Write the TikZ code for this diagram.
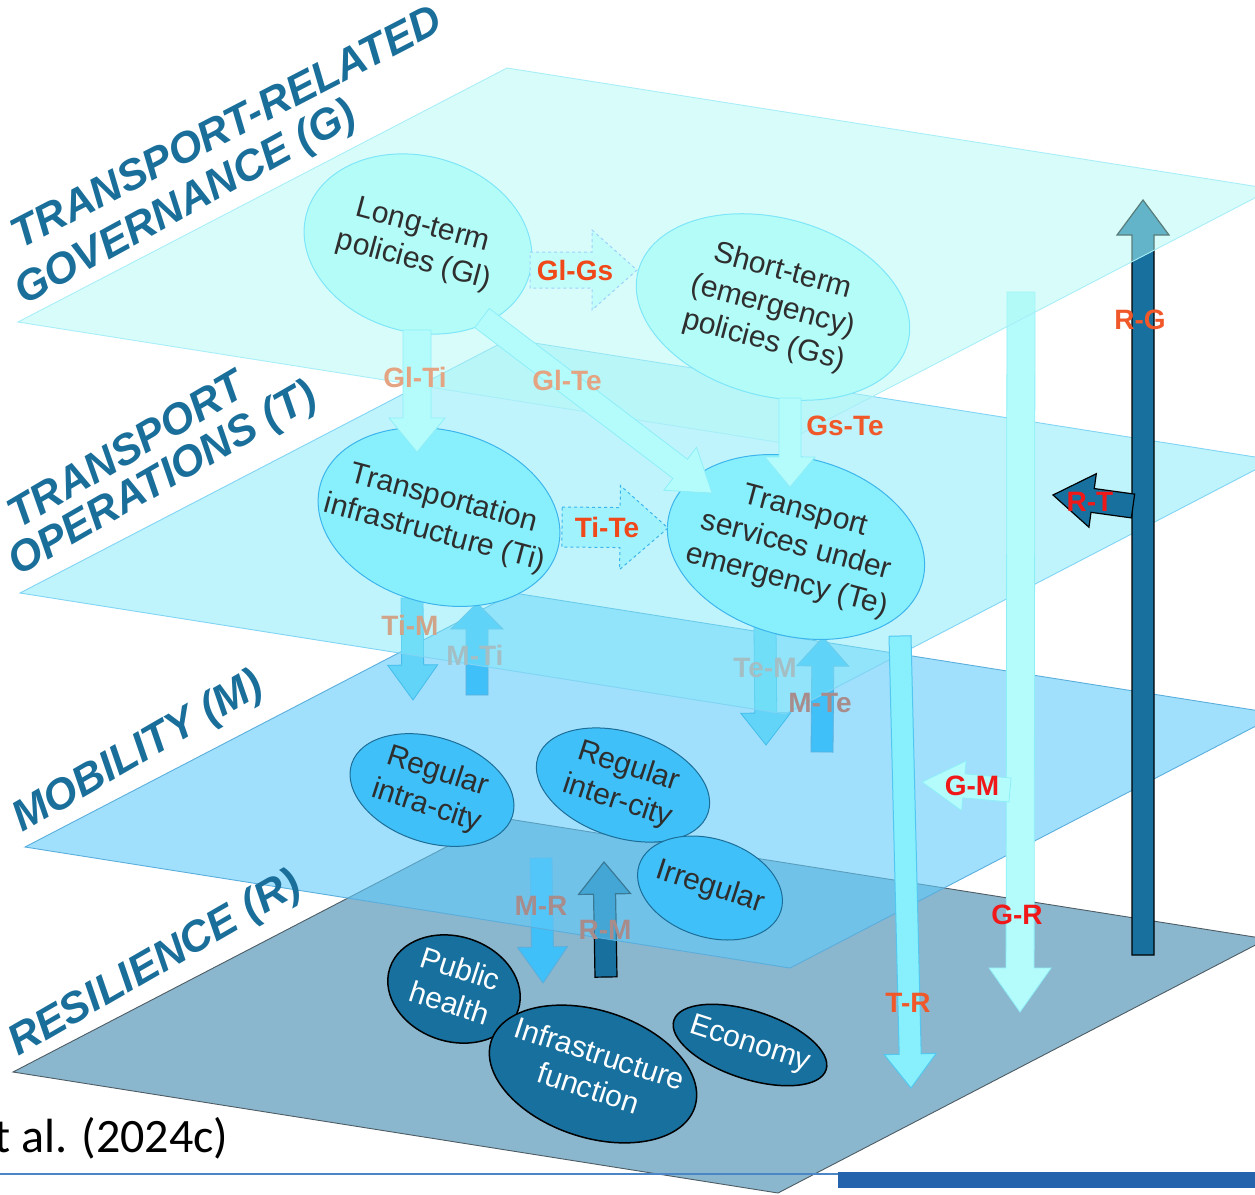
\documentclass[tikz,border=0pt]{standalone}
\usepackage{fontspec}
\setmainfont{Liberation Sans}
\newfontfamily\citefont{Carlito}
\usetikzlibrary{calc,shapes.geometric}

% Layer colours
\definecolor{titleblue}{HTML}{1A6E9A}
\definecolor{govfill}{RGB}{177,249,245}
\definecolor{govline}{HTML}{A8EEF8}
\definecolor{opsfill}{RGB}{129,233,249}
\definecolor{opsline}{HTML}{80D4F4}
\definecolor{mobfill}{RGB}{97,203,250}
\definecolor{mobline}{HTML}{5AAEDC}
\definecolor{resfill}{HTML}{8AB6CE}
\definecolor{resline}{HTML}{4E5C64}
% Bubble colours
\definecolor{nodetext}{HTML}{2E2E2E}
\definecolor{govnode}{HTML}{B4FCF8}
\definecolor{govnodeline}{HTML}{7EE6F8}
\definecolor{opsnode}{HTML}{88F0FC}
\definecolor{opsnodeline}{HTML}{3CB4EC}
\definecolor{mobnode}{HTML}{40C0F8}
\definecolor{mobnodeline}{HTML}{1C6E98}
\definecolor{resnode}{HTML}{17709E}
% Arrow colours
\definecolor{palearrow}{HTML}{B4FCFC}
\definecolor{palearrowline}{HTML}{8EEEF8}
\definecolor{opsarrow}{HTML}{62D4F8}
\definecolor{opsarrowline}{HTML}{44BCEC}
\definecolor{trarrow}{HTML}{88F0FC}
\definecolor{trarrowline}{HTML}{52C8F0}
% Label colours
\definecolor{lblred}{HTML}{F04818}
\definecolor{lblorange}{HTML}{F0582A}
\definecolor{lblbright}{HTML}{F01818}
\definecolor{lblpale}{HTML}{E4A482}
\definecolor{lbltan}{HTML}{D0A488}
\definecolor{lblgrey}{HTML}{A4BEC4}
\definecolor{lblmauve}{HTML}{A88C8C}
\definecolor{rulethin}{HTML}{4D86C6}
\definecolor{rulethick}{HTML}{2563AD}

% block arrow: style, tail, tip, half shaft, half head, head length
\newcommand{\fatarrow}[6]{%
  \coordinate (neck) at ($(#3)!#6!(#2)$);
  \path[#1] ($(#2)!#4!90:(#3)$) -- ($(neck)!#4!90:(#3)$)
    -- ($(neck)!#5!90:(#3)$) -- (#3)
    -- ($(neck)!#5!-90:(#3)$) -- ($(neck)!#4!-90:(#3)$)
    -- ($(#2)!#4!-90:(#3)$) -- cycle;}
% bubble text that does not widen its ellipse
\newcommand{\btext}[1]{\makebox[0pt]{\begin{tabular}{@{}c@{}}#1\end{tabular}}}

\begin{document}
\begin{tikzpicture}[x=1pt, y=-1pt,
  % Plane styles
  plane/.style={line width=0.9pt},
  gov plane/.style={plane, fill=govfill, fill opacity=0.5, draw=govline},
  ops plane/.style={plane, fill=opsfill, fill opacity=0.5, draw=opsline},
  mob plane/.style={plane, fill=mobfill, fill opacity=0.6, draw=mobline},
  res plane/.style={plane, fill=resfill, draw=resline},
  % Node styles
  bubble/.style={
    ellipse,
    inner sep=0pt,
    line width=1pt,
    text=nodetext,
    font=\fontsize{30}{36}\selectfont,
  },
  gov bubble/.style={bubble, fill=govnode, draw=govnodeline, rotate=-15},
  ops bubble/.style={bubble, fill=opsnode, draw=opsnodeline, rotate=-15},
  mob bubble/.style={bubble, fill=mobnode, draw=mobnodeline, rotate=-18},
  res bubble/.style={bubble, fill=resnode, draw=black, line width=1.5pt,
    text=white, rotate=-18},
  % Arrow styles
  pale link/.style={fill=palearrow, draw=palearrowline, line width=0.8pt},
  ops link/.style={fill=opsarrow, draw=opsarrowline, line width=0.8pt},
  mob link/.style={fill=mobnode, draw=mobline, line width=0.8pt},
  res link/.style={fill=resnode, draw=black, line width=1.2pt},
  tr link/.style={fill=trarrow, draw=trarrowline, line width=1pt},
  gov dashed/.style={fill=govnode!80!white, draw=palearrowline!80!blue!70, dashed, line width=1pt},
  ops dashed/.style={fill=opsnode!80!white, draw=opsnodeline, dashed, line width=1pt},
  % Text styles
  layer title/.style={
    anchor=base west,
    inner sep=0pt,
    rotate=29,
    text=titleblue,
    font=\fontsize{43}{46}\selectfont\bfseries\itshape,
  },
  link label/.style={font=\fontsize{28}{30}\selectfont\bfseries},
]
  \useasboundingbox (0,0) rectangle (1255,1194);

  % Arrow end points
  \foreach \n/\x/\y in {
      glgs1/530/270, glgs2/637/270, glti1/417/330, glti2/417/452,
      glte1/482/318, glte2/712/493, gste1/790/398, gste2/790/487,
      tite1/562/527, tite2/668/528, tim1/412/598,  tim2/413/700,
      mti1/477/695,  mti2/477/603,  tem1/765/627,  tem2/766/745,
      mte1/822/752,  mte2/823/637,  tr1/900/636,   tr2/911/1088,
      gr1/1021/292,  gr2/1020/1012, gm1/1010/790,  gm2/922/782,
      rg1/1143/955,  rg2/1143/200,  rt1/1133/506,  rt2/1053/495,
      mr1/541/858,   mr2/543/983,   rm1/606/977,   rm2/604/862} {
    \coordinate (\n) at (\x,\y);
  }

  % Resilience layer
  \draw[res plane] (13,1072) -- ++(765,121) -- ++(489,-254) -- ++(-765,-121) -- cycle;
  \fatarrow{mob link}{mr1}{mr2}{11pt}{25pt}{36pt}
  \fatarrow{res link}{rm1}{rm2}{11pt}{26pt}{32pt}
  \node[res bubble, minimum width=135pt, minimum height=105pt] (health) at (454,989) {\btext{Public\\health}};
  \node[res bubble, minimum width=214pt, minimum height=127pt] (infra) at (593,1074) {\btext{Infrastructure\\function}};
  \node[res bubble, minimum width=160pt, minimum height=68pt] (economy) at (750,1045) {\btext{Economy}};

  % Mobility layer
  \draw[mob plane] (25,847) -- ++(765,121) -- ++(489,-254) -- ++(-765,-121) -- cycle;
  \node[mob bubble, minimum width=169pt, minimum height=105pt] (intra) at (432,790) {\btext{Regular\\intra-city}};
  \node[mob bubble, minimum width=179pt, minimum height=105pt] (inter) at (623,785) {\btext{Regular\\inter-city}};
  \node[mob bubble, minimum width=149pt, minimum height=98pt] (irregular) at (710,888) {\btext{Irregular}};
  \fatarrow{ops link}{tim1}{tim2}{11pt}{25pt}{35pt}
  \fatarrow{mob link}{mti1}{mti2}{11pt}{26pt}{26pt}
  \fatarrow{ops link}{tem1}{tem2}{11pt}{25pt}{32pt}
  \fatarrow{mob link}{mte1}{mte2}{11pt}{26pt}{29pt}

  % Transport operations layer
  \draw[ops plane] (20,593) -- ++(765,121) -- ++(489,-254) -- ++(-765,-121) -- cycle;
  \node[ops bubble, minimum width=246pt, minimum height=173pt] (Ti) at (439,517) {\btext{Transportation\\infrastructure (Ti)}};
  \node[ops bubble, minimum width=262pt, minimum height=178pt] (Te) at (796,547) {\btext{Transport\\services under\\emergency (Te)}};
  \fatarrow{ops dashed}{tite1}{tite2}{20pt}{42pt}{48pt}

  % Links back from resilience and down from governance
  \fatarrow{tr link}{tr1}{tr2}{11pt}{26pt}{34pt}
  \fatarrow{pale link}{gr1}{gr2}{14pt}{31pt}{44pt}
  \fatarrow{pale link}{gm1}{gm2}{12pt}{25pt}{42pt}
  \fatarrow{res link}{rg1}{rg2}{11pt}{26pt}{35pt}
  \fatarrow{res link}{rt1}{rt2}{12pt}{27pt}{40pt}

  % Governance layer
  \draw[gov plane] (18,322) -- ++(765,121) -- ++(489,-254) -- ++(-765,-121) -- cycle;
  \node[gov bubble, minimum width=231pt, minimum height=176pt] (Gl) at (418,244) {\btext{Long-term\\policies (Gl)}};
  \node[gov bubble, minimum width=279pt, minimum height=178pt] (Gs) at (773,307) {\btext{Short-term\\(emergency)\\policies (Gs)}};
  \fatarrow{gov dashed}{glgs1}{glgs2}{18pt}{40pt}{45pt}
  \fatarrow{pale link}{glti1}{glti2}{14pt}{28pt}{34pt}
  \fatarrow{pale link}{glte1}{glte2}{12pt}{27pt}{40pt}
  \fatarrow{pale link}{gste1}{gste2}{11pt}{25pt}{30pt}

  % Link labels
  \foreach \t/\x/\y/\c in {
      Gl-Gs/575/270/lblred,   Ti-Te/607/527/lblred,
      Gl-Ti/415/377/lblpale,  Gl-Te/567/380/lblpale,
      Gs-Te/845/426/lblorange, Ti-M/410/625/lbltan,
      M-Ti/475/655/lblgrey,   Te-M/765/668/lblgrey,
      M-Te/820/703/lblmauve,  M-R/541/906/lblmauve,
      R-M/605/930/lblmauve,   R-G/1140/320/lblorange,
      R-T/1090/502/lblbright, G-M/972/786/lblbright,
      G-R/1017/915/lblbright, T-R/908/1003/lblorange} {
    \node[link label, text=\c] (lbl-\t) at (\x,\y) {\t};
  }

  % Layer titles
  \node[layer title, rotate=-1.6] (gov-title-1) at (20,250) {TRANSPORT-RELATED};
  \node[layer title, rotate=-0.3] (gov-title-2) at (24,306) {GOVERNANCE (G)};
  \node[layer title, rotate=1.5] (ops-title-1) at (18,530) {TRANSPORT};
  \node[layer title, rotate=1] (ops-title-2) at (18,577) {OPERATIONS (T)};
  \node[layer title, rotate=1] (mob-title) at (22,833) {MOBILITY (M)};
  \node[layer title, rotate=1] (res-title) at (18,1057) {RESILIENCE (R)};

  % Source line and footer rules
  \node[anchor=base west, inner sep=0pt, font=\citefont\fontsize{48}{50}\selectfont] (cite) at (-6,1152) {t al. (2024c)};
  \draw[rulethin, line width=1.5pt] (0,1174) -- (840,1174);
  \fill[rulethick] (838,1172) rectangle (1255,1188);

\end{tikzpicture}
\end{document}
